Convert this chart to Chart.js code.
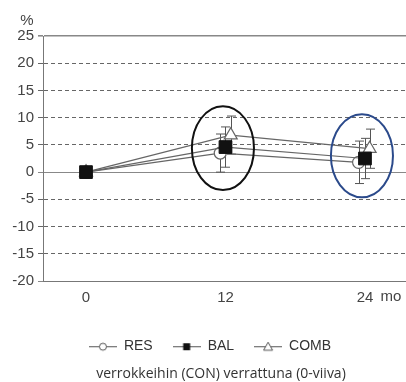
<!DOCTYPE html>
<html>
<head>
<meta charset="utf-8">
<script src="https://cdn.jsdelivr.net/npm/chart.js@4"></script>
<style>
  html, body { margin: 0; padding: 0; background: #fff; }
  #wrap { width: 406px; height: 382px; }
</style>
</head>
<body>
<div id="wrap"><canvas id="chart" width="406" height="382"></canvas></div>
<script>
// data (months, % change vs CON)
const xTicks = [0, 12, 24];
const resX = [0, 11.55, 23.45];
const balX = [0, 12, 24];
const combX = [0, 12.45, 24.4];
const resVals = [0, 3.5, 1.8];
const balVals = [0, 4.6, 2.5];
const combVals = [0, 6.8, 4.3];
const resErr = [0, 3.5, 3.9];
const balErr = [0, 3.7, 3.7];
const combErr = [0, 3.5, 3.6];
const caption = "verrokkeihin (CON) verrattuna (0-viiva)";

// hand drawn circles on top of the chart (data units)
const rings = [
  { x: 11.78, y: 4.4, rx: 2.67, ry: 7.7, color: "#111" },
  { x: 23.74, y: 3.0, rx: 2.67, ry: 7.63, color: "#2b4a8b" },
];

const toPoints = (xs, ys) => xs.map((x, i) => ({ x: x, y: ys[i] }));

// small line+marker icons for the legend
function legendIcon(kind) {
  const c = document.createElement("canvas");
  c.width = 28;
  c.height = 14;
  const g = c.getContext("2d");
  g.strokeStyle = "#555";
  g.lineWidth = 1;
  g.beginPath();
  g.moveTo(0, 7.5);
  g.lineTo(28, 7.5);
  g.stroke();
  g.beginPath();
  if (kind === "circle") {
    g.arc(14, 7.5, 3.5, 0, Math.PI * 2);
    g.fillStyle = "#fff";
    g.fill();
    g.stroke();
  } else if (kind === "rect") {
    g.fillStyle = "#111";
    g.fillRect(10.5, 4, 7, 7);
  } else {
    g.moveTo(14, 3);
    g.lineTo(18.5, 11);
    g.lineTo(9.5, 11);
    g.closePath();
    g.fillStyle = "#fff";
    g.fill();
    g.stroke();
  }
  return c;
}
const icons = [legendIcon("circle"), legendIcon("rect"), legendIcon("triangle")];

// error bars, drawn under the lines and markers
const errorBars = {
  id: "errorBars",
  beforeDatasetsDraw(chart) {
    const { ctx, scales: { x, y } } = chart;
    ctx.save();
    ctx.strokeStyle = "#555";
    ctx.lineWidth = 1;
    chart.data.datasets.forEach((ds) => {
      ds.data.forEach((p, i) => {
        const e = ds.errors[i];
        if (!e) return;
        const px = Math.round(x.getPixelForValue(p.x)) + 0.5;
        const t = y.getPixelForValue(p.y + e);
        const b = y.getPixelForValue(p.y - e);
        ctx.beginPath();
        ctx.moveTo(px, t);
        ctx.lineTo(px, b);
        ctx.moveTo(px - 4.5, t);
        ctx.lineTo(px + 4.5, t);
        ctx.moveTo(px - 4.5, b);
        ctx.lineTo(px + 4.5, b);
        ctx.stroke();
      });
    });
    ctx.restore();
  },
};

// nudge legend and caption to where they sit in the original
const shiftBlocks = {
  id: "shiftBlocks",
  afterLayout(chart) {
    chart.legend.left += 7;
    chart.legend.right += 7;
    chart.titleBlock.left += 18;
    chart.titleBlock.right += 18;
  },
};

// extra texts ("%" and "mo") and the circles
const extras = {
  id: "extras",
  afterDraw(chart) {
    const { ctx, scales: { x, y } } = chart;
    ctx.save();
    ctx.fillStyle = "#444";
    ctx.font = "15px 'Liberation Sans'";
    ctx.textAlign = "center";
    ctx.textBaseline = "middle";
    ctx.fillText("%", 27, 21);
    ctx.fillText("mo", x.getPixelForValue(24) + 26, y.bottom + 16);
    ctx.lineWidth = 2;
    rings.forEach((r) => {
      const cx = x.getPixelForValue(r.x);
      const cy = y.getPixelForValue(r.y);
      const rx = Math.abs(x.getPixelForValue(r.x + r.rx) - cx);
      const ry = Math.abs(y.getPixelForValue(r.y + r.ry) - cy);
      ctx.strokeStyle = r.color;
      ctx.beginPath();
      ctx.ellipse(cx, cy, rx, ry, 0, 0, Math.PI * 2);
      ctx.stroke();
    });
    ctx.restore();
  },
};

const config = {
  type: "scatter",
  data: {
    datasets: [
      {
        label: "RES",
        data: toPoints(resX, resVals),
        errors: resErr,
        order: 1,
        showLine: true,
        borderColor: "#666",
        borderWidth: 1.2,
        pointStyle: "circle",
        pointRadius: 6,
        pointBackgroundColor: "#fff",
        pointBorderColor: "#666",
        pointBorderWidth: 1.2,
      },
      {
        label: "BAL",
        data: toPoints(balX, balVals),
        errors: balErr,
        order: 0,
        showLine: true,
        borderColor: "#666",
        borderWidth: 1.2,
        pointStyle: "rect",
        pointRadius: 9,
        pointBackgroundColor: "#111",
        pointBorderColor: "#111",
        pointBorderWidth: 1,
      },
      {
        label: "COMB",
        data: toPoints(combX, combVals),
        errors: combErr,
        order: 2,
        showLine: true,
        borderColor: "#666",
        borderWidth: 1.2,
        pointStyle: "triangle",
        pointRadius: 7.5,
        pointBackgroundColor: "#fff",
        pointBorderColor: "#666",
        pointBorderWidth: 1.2,
      },
    ],
  },
  options: {
    responsive: false,
    animation: false,
    layout: { autoPadding: false, padding: { top: 36, left: 0, right: 0, bottom: 0 } },
    scales: {
      x: {
        type: "linear",
        min: -3.7,
        max: 27.53,
        afterBuildTicks: (s) => { s.ticks = xTicks.map((v) => ({ value: v })); },
        afterFit: (s) => { s.height = 38.2; },
        grid: { display: true, color: "rgba(0,0,0,0)", drawTicks: false },
        border: { display: true, color: "#777", width: 1 },
        ticks: {
          color: "#444",
          padding: 8,
          font: { family: "'Liberation Sans'", size: 15 },
        },
      },
      y: {
        min: -20,
        max: 25,
        afterFit: (s) => { s.width = 43; },
        grid: {
          color: (c) => ([0, 25, -20].includes(c.tick.value) ? "#888" : "#666"),
          lineWidth: (c) => (c.tick.value === 25 ? 1.6 : 1),
          tickLength: 5,
        },
        border: {
          display: true,
          color: "#777",
          width: 1,
          dash: (c) => (c.tick && [0, 25, -20].includes(c.tick.value) ? [] : [4, 3]),
        },
        ticks: {
          stepSize: 5,
          color: "#444",
          padding: 4,
          font: { family: "'Liberation Sans'", size: 15 },
        },
      },
    },
    plugins: {
      legend: {
        position: "bottom",
        labels: {
          usePointStyle: true,
          pointStyleWidth: 28,
          padding: 20,
          color: "#333",
          font: { family: "'Liberation Sans'", size: 14 },
          sort: (a, b) => a.datasetIndex - b.datasetIndex,
          generateLabels: (chart) =>
            Chart.defaults.plugins.legend.labels.generateLabels(chart).map((item) => {
              item.pointStyle = icons[item.datasetIndex];
              return item;
            }),
        },
      },
      title: {
        display: true,
        position: "bottom",
        text: caption,
        color: "#333",
        font: { family: "'Open Sans'", size: 14, weight: "normal" },
        padding: { top: 2, bottom: 0 },
      },
      tooltip: { enabled: false },
    },
  },
  plugins: [errorBars, shiftBlocks, extras],
};

const myChart = new Chart(document.getElementById("chart"), config);
</script>
</body>
</html>
